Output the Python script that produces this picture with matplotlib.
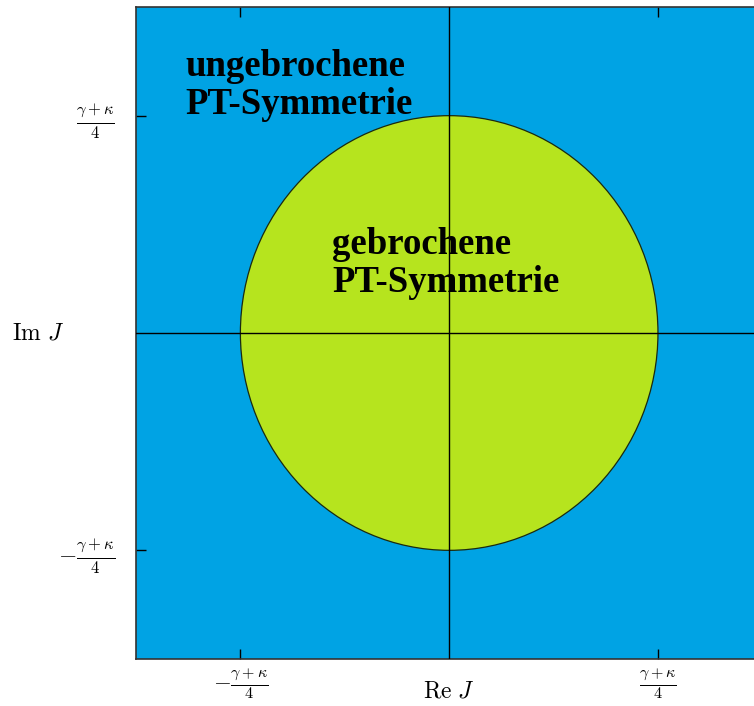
import matplotlib

matplotlib.use("Agg")
import matplotlib.pyplot as plt
from matplotlib.patches import Ellipse

plt.rcParams["mathtext.fontset"] = "cm"

# (gamma + kappa) / 4 is taken as the unit
radius = 1.0
tick_pos = [-1.0, 1.0]
tick_labels = [r"$-\frac{\gamma+\kappa}{4}$", r"$\frac{\gamma+\kappa}{4}$"]
region_labels = ["ungebrochene\nPT-Symmetrie", "gebrochene\nPT-Symmetrie"]
region_xy = [(-1.263, 1.007), (-0.56, 0.189)]

blue = "#00A3E4"
green = "#B6E41E"

fig = plt.figure(figsize=(7.54, 7.06), dpi=100)
ax = fig.add_axes([136 / 754, 47 / 706, 1 - 136 / 754, 652 / 706])
ax.set_facecolor(blue)
ax.set_xlim(-1.5, 1.46)
ax.set_ylim(-1.5, 1.5)

circle = Ellipse((0, 0), 2 * radius, 2 * radius, facecolor=green,
                 edgecolor="#1a2a10", linewidth=0.9, zorder=1)
ax.add_patch(circle)

ax.axhline(0, color="black", linewidth=1.0, zorder=3)
ax.axvline(0, color="black", linewidth=1.0, zorder=3)

# baseline of the last line sits at the given y
for (x, y), txt in zip(region_xy, region_labels):
    ax.text(x, y, txt, family="Liberation Serif", fontweight="bold",
            fontsize=26.5, ha="left", va="baseline", linespacing=1.12,
            zorder=2)

ax.set_xticks(tick_pos)
ax.set_xticklabels(tick_labels, fontsize=16.5)
ax.set_yticks(tick_pos)
ax.set_yticklabels(tick_labels, fontsize=17)
ax.tick_params(direction="in", length=7, width=1.0, top=True, right=False)
ax.tick_params(axis="y", pad=15)
ax.tick_params(axis="x", pad=5)

ax.spines["right"].set_visible(False)
for s in ["left", "top", "bottom"]:
    ax.spines[s].set_color("#333333")
    ax.spines[s].set_linewidth(1.2)

ax.set_xlabel(r"$\mathrm{Re}\ J$", fontsize=17, va="center")
ax.set_ylabel(r"$\mathrm{Im}\ J$", fontsize=17, rotation=0,
              ha="center", va="center")
ax.yaxis.set_label_coords((38 - 136) / 618, 0.5)
ax.xaxis.set_label_coords((449 - 136) / 618, -31 / 652)

fig.savefig("out.png", dpi=100)
